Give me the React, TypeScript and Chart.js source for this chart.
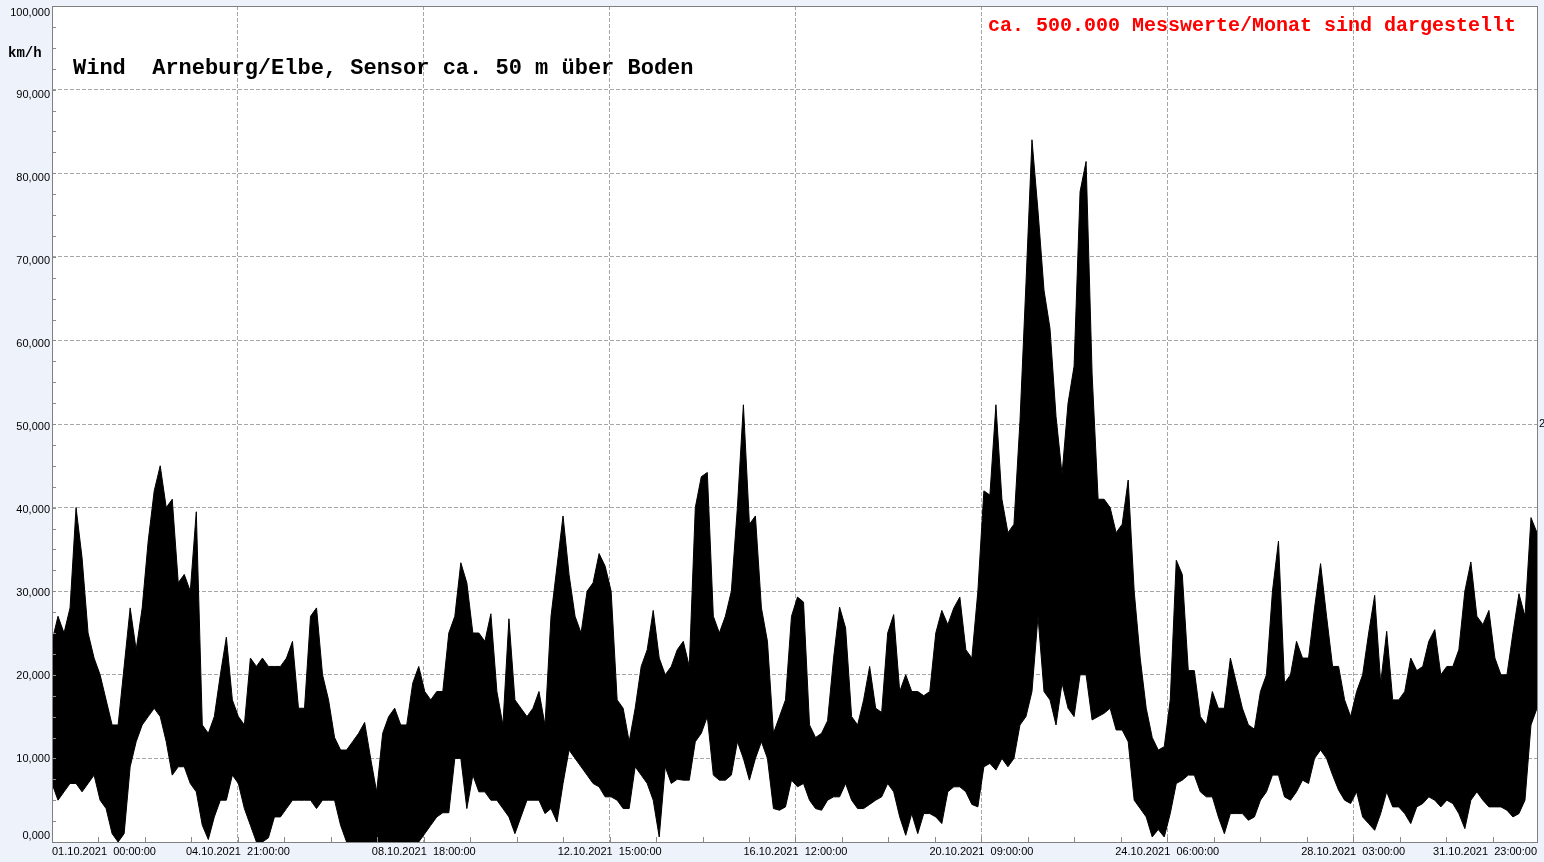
import React, { useEffect, useRef } from "react";
import { Chart, registerables } from "chart.js";

Chart.register(...registerables);

// Wind speed envelope (km/h): per 3-hour slot, highest and lowest reading
const windMax: number[] = [
  24, 27, 25, 28, 40, 34, 25, 22, 20, 17,
  14, 14, 21, 28, 23, 28, 36, 42, 45, 40,
  41, 31, 32, 30, 39.5, 14, 13, 15, 20, 24.5,
  17, 15, 14, 22, 21, 22, 21, 21, 21, 22,
  24, 16, 16, 27, 28, 20, 17, 12.5, 11, 11,
  12, 13, 14.3, 10, 6, 13, 15, 16, 14, 14,
  19, 21, 18, 17, 18, 18, 25, 27, 33.4, 31,
  25, 25, 24, 27.3, 18, 14, 26.7, 17, 16, 15,
  16, 18, 14, 27, 33, 39, 32, 27, 25, 30,
  31, 34.5, 33, 30, 17, 16, 12, 16, 21, 23,
  27.7, 22, 20, 21, 23, 24, 21, 40, 43.7, 44.2,
  27, 25, 27, 30, 40, 52.3, 38, 39, 28, 24,
  13, 15, 17, 27, 29.3, 28.7, 14, 12.5, 13, 14.5,
  22, 28.1, 25.6, 15, 14, 17, 21, 16, 15.5, 25,
  27.2, 18, 20, 18, 18, 17.5, 18, 25, 27.7, 26,
  28, 29.3, 23, 22, 30, 42, 41.5, 52.3, 41, 37,
  38, 50.3, 66.8, 84, 75.5, 66, 61.4, 50.9, 44, 52.5,
  56.9, 77.8, 81.4, 56, 41, 41, 40, 37, 38, 43.3,
  30, 22, 16, 12.5, 11, 11.4, 17, 33.7, 32, 20.5,
  20.5, 15, 14, 18, 16, 16, 22, 19, 16, 14,
  13.5, 18, 20, 30, 36, 19, 20, 24, 22, 22,
  28, 33.3, 27, 21, 21, 17, 15, 18, 20, 25,
  29.5, 19, 25.2, 17, 17, 18, 22, 20.5, 21, 24,
  25.4, 20, 21, 21, 23, 30, 33.5, 27, 26, 27.7,
  22, 20, 20, 25, 29.7, 27, 38.8, 37,
];

const windMin: number[] = [
  7, 5, 6, 7, 7, 6, 7, 8, 5, 4,
  1, 0, 1, 9, 12, 14, 15, 16, 15, 12,
  8, 9, 9, 7, 6, 2, 0.3, 3, 5, 5,
  8, 7, 4, 2, 0, 0, 0.5, 3, 3, 4,
  5, 5, 5, 5, 4, 5, 5, 5, 2, 0,
  0, 0, 0, 0, 0, 0, 0, 0, 0, 0,
  0, 0, 1, 2, 3, 3.5, 3.5, 10, 10, 4,
  8, 6, 6, 5, 5, 4, 3, 1, 3, 5,
  5, 5, 3.4, 4, 2.4, 7, 11, 10, 9, 8,
  7, 6.6, 5.4, 5.4, 5, 4, 4, 9, 8, 7,
  5, 0.6, 9, 7, 7.5, 7.4, 7.4, 12, 13, 15,
  8, 7.4, 7.4, 8, 12, 10, 7.4, 10, 12, 10,
  4, 3.8, 4.2, 7.4, 6.6, 7, 5, 4, 3.8, 5,
  5.4, 5.4, 7, 5, 4, 4, 4.5, 5, 5.4, 7,
  6, 3, 0.8, 3.4, 1, 3.4, 3.4, 3, 2.2, 6,
  6.6, 6.6, 6, 4.5, 4.2, 9, 9.4, 8.6, 10, 9,
  10, 14, 15, 18, 27, 18, 17, 14, 19, 16,
  15, 20, 20, 14.6, 15, 15.4, 16, 13.4, 13.4, 12,
  5, 4, 3, 0.6, 1.5, 0.6, 3.4, 7, 7.4, 8,
  8, 6, 5.4, 5.4, 3, 1, 3.4, 3.4, 3.4, 2.6,
  3, 5, 6, 8, 8, 5.4, 5, 6, 7.4, 7,
  10, 11, 10, 8, 6.2, 5, 4.6, 6, 3, 2.2,
  1.4, 3.4, 6, 4.2, 4.2, 3.4, 2.2, 4.2, 4.6, 5.4,
  5, 4.2, 5, 4.6, 3.4, 1.6, 5, 6, 5, 4.2,
  4.2, 4.2, 3.8, 3, 3.4, 5, 14, 16,
];

// Time axis in hours since 01.10.2021 00:00
const HOURS_TOTAL = 743;
const xTickHours = [0, 93, 186, 279, 372, 465, 558, 651, 743];
const xTickLabels = [
  "01.10.2021  00:00:00",
  "04.10.2021  21:00:00",
  "08.10.2021  18:00:00",
  "12.10.2021  15:00:00",
  "16.10.2021  12:00:00",
  "20.10.2021  09:00:00",
  "24.10.2021  06:00:00",
  "28.10.2021  03:00:00",
  "31.10.2021  23:00:00",
];
const xMinorStep = 23.25;

const yTickValues = [0, 10, 20, 30, 40, 50, 60, 70, 80, 90, 100];
const yTickLabels = [
  "0,000", "10,000", "20,000", "30,000", "40,000", "50,000",
  "60,000", "70,000", "80,000", "90,000", "100,000",
];
const yMinorStep = 2.5;

const unitText = "km/h";
const titleText = "Wind  Arneburg/Elbe, Sensor ca. 50 m über Boden";
const noteText = "ca. 500.000 Messwerte/Monat sind dargestellt";
const sideText = "2";

const BG = "#eef2fb";
const TICK_FONT = "11px 'Liberation Sans', sans-serif";

const framePlugin = {
  id: "frame",
  beforeDraw(chart: any) {
    const { ctx, chartArea: a } = chart;
    ctx.save();
    ctx.fillStyle = BG;
    ctx.fillRect(0, 0, chart.width, chart.height);
    ctx.fillStyle = "#ffffff";
    ctx.fillRect(a.left, a.top, a.right - a.left, a.bottom - a.top);
    ctx.restore();
  },
  afterDatasetsDraw(chart: any) {
    const { ctx, chartArea: a } = chart;
    const xs = chart.scales.x;
    const ys = chart.scales.y;
    ctx.save();
    ctx.strokeStyle = "#8a8a8a";
    ctx.lineWidth = 1;
    ctx.beginPath();
    for (let v = 0; v <= 100 + 1e-9; v += yMinorStep) {
      const y = Math.round(ys.getPixelForValue(v)) + 0.5;
      ctx.moveTo(a.left, y);
      ctx.lineTo(a.left + 4, y);
    }
    for (let h = 0; h <= HOURS_TOTAL + 1e-9; h += xMinorStep) {
      const x = Math.round(xs.getPixelForValue(h)) + 0.5;
      ctx.moveTo(x, a.bottom);
      ctx.lineTo(x, a.bottom - 5);
    }
    ctx.stroke();
    ctx.strokeStyle = "#808080";
    ctx.strokeRect(
      Math.round(a.left) + 0.5,
      Math.round(a.top) + 0.5,
      Math.round(a.right - a.left),
      Math.round(a.bottom - a.top)
    );
    ctx.restore();
  },
  afterDraw(chart: any) {
    const { ctx, chartArea: a } = chart;
    const ys = chart.scales.y;
    ctx.save();
    // y-axis labels, nudged like the original (slightly below the line, bottom one kept above the axis)
    ctx.fillStyle = "#000000";
    ctx.font = TICK_FONT;
    ctx.textAlign = "right";
    ctx.textBaseline = "middle";
    yTickValues.forEach((v, i) => {
      const base = ys.getPixelForValue(v);
      let off = v * 0.06;
      if (v >= 100) off = 7;
      if (v <= 0) off = -6;
      ctx.fillText(yTickLabels[i], a.left - 2, base + off);
    });

    ctx.textAlign = "left";
    ctx.fillStyle = "#000000";
    ctx.font = "bold 14px 'Liberation Mono', monospace";
    ctx.fillText(unitText, 8, 53);
    ctx.font = "bold 22px 'Liberation Mono', monospace";
    ctx.fillText(titleText, 73, 68);
    ctx.fillStyle = "#ff0000";
    ctx.font = "bold 20px 'Liberation Mono', monospace";
    ctx.fillText(noteText, 988, 26);
    ctx.fillStyle = "#000000";
    ctx.font = TICK_FONT;
    ctx.fillText(sideText, 1539, 424);
    ctx.restore();
  },
};

export default function App() {
  const canvasRef = useRef<HTMLCanvasElement | null>(null);

  useEffect(() => {
    const canvas = canvasRef.current;
    if (!canvas) return;
    const n = windMax.length;
    const times = windMax.map((_, i) => (i * HOURS_TOTAL) / (n - 1));

    const chart = new Chart(canvas, {
      type: "line",
      data: {
        datasets: [
          {
            label: "max",
            data: windMax.map((v, i) => ({ x: times[i], y: v })),
            borderColor: "#000000",
            borderWidth: 1,
            pointRadius: 0,
            tension: 0,
            fill: false,
          },
          {
            label: "min",
            data: windMin.map((v, i) => ({ x: times[i], y: v })),
            borderColor: "#000000",
            backgroundColor: "#000000",
            borderWidth: 1,
            pointRadius: 0,
            tension: 0,
            fill: "-1",
          },
        ],
      },
      options: {
        responsive: false,
        animation: false,
        devicePixelRatio: 1,
        layout: { padding: { top: 6, right: 7, bottom: 0, left: 0 } },
        plugins: {
          legend: { display: false },
          tooltip: { enabled: false },
          title: { display: false },
        },
        scales: {
          x: {
            type: "linear",
            min: 0,
            max: HOURS_TOTAL,
            afterBuildTicks: (s: any) => {
              s.ticks = xTickHours.map((v) => ({ value: v }));
            },
            afterFit: (s: any) => {
              s.height = 20;
              s.paddingLeft = 0;
              s.paddingRight = 0;
            },
            ticks: {
              autoSkip: false,
              maxRotation: 0,
              minRotation: 0,
              align: "inner",
              padding: 3,
              color: "#000000",
              font: { family: "'Liberation Sans', sans-serif", size: 11 },
              callback: (_v: any, i: number) => xTickLabels[i],
            },
            grid: { color: "#a6a6a6", lineWidth: 1, drawTicks: false },
            border: { display: false, dash: [4, 2] },
          },
          y: {
            type: "linear",
            min: 0,
            max: 100,
            afterBuildTicks: (s: any) => {
              s.ticks = yTickValues.map((v) => ({ value: v }));
            },
            afterFit: (s: any) => {
              s.width = 52;
              s.paddingTop = 0;
              s.paddingBottom = 0;
            },
            ticks: {
              display: false,
              autoSkip: false,
            },
            grid: { color: "#a6a6a6", lineWidth: 1, drawTicks: false },
            border: { display: false, dash: [4, 2] },
          },
        },
      },
      plugins: [framePlugin],
    } as any);

    return () => chart.destroy();
  }, []);

  return (
    <div
      style={{
        position: "fixed",
        left: 0,
        top: 0,
        width: 1544,
        height: 862,
        background: BG,
      }}
    >
      <canvas ref={canvasRef} width={1544} height={862} style={{ display: "block" }} />
    </div>
  );
}
